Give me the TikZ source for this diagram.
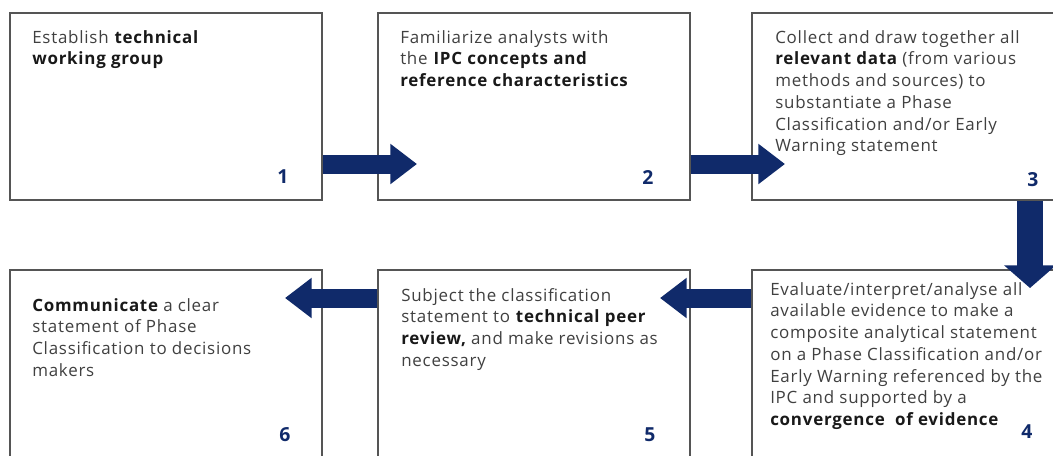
\documentclass[tikz,border=0pt]{standalone}
\usepackage{fontspec}
\setmainfont[LetterSpace=4.5]{Open Sans}
\usetikzlibrary{arrows.meta}

\definecolor{ipcnavy}{HTML}{102A6A}
\definecolor{boxgray}{HTML}{555555}
\definecolor{txtgray}{HTML}{404040}
\newcommand{\keyword}[1]{\textbf{\color{black!90}#1}}

\tikzset{
  stepbox/.style={draw=boxgray, line width=1.3pt, fill=white,
    minimum width=234pt, minimum height=140.25pt, inner sep=0pt},
  steptext/.style={anchor=north west, align=left, inner sep=0pt,
    font=\fontsize{12.7}{16.3}\selectfont, text=txtgray},
  stepnum/.style={font=\fontsize{14.5}{16}\selectfont\bfseries, text=ipcnavy},
  flow/.style={line width=14.25pt, draw=ipcnavy,
    -{Triangle[width=29pt,length=20pt]}},
  downflow/.style={line width=19pt, draw=ipcnavy,
    -{Triangle[width=38pt,length=17pt]}},
}

\begin{document}
\begin{tikzpicture}[x=0.75pt, y=-0.75pt]
  \useasboundingbox (0,0) rectangle (1053,455);

  % top row
  \node [stepbox] (b1) at (166, 106.5) {};
  \node [stepbox] (b2) at (534, 106.5) {};
  \node [stepbox] (b3) at (908, 106.5) {};

  % bottom row
  \node [stepbox] (b6) at (166, 363.5) {};
  \node [stepbox] (b5) at (534, 363.5) {};
  \node [stepbox] (b4) at (908, 363.5) {};

  \node [steptext] (t1) at (32, 30) {Establish \keyword{technical}\\
    \keyword{working group}};
  \node [steptext] (t2) at (400, 30) {Familiarize analysts with\\
    the \keyword{IPC concepts and}\\ \keyword{reference characteristics}};
  \node [steptext] (t3) at (775, 30) {Collect and draw together all\\
    \keyword{relevant data} (from various\\ methods and sources) to\\
    substantiate a Phase\\ Classification and/or Early\\ Warning statement};
  \node [steptext] (t4) at (770, 282) {Evaluate/interpret/analyse all\\
    available evidence to make a\\ composite analytical statement\\
    on a Phase Classification and/or\\ Early Warning referenced by the\\
    IPC and supported by a\\ \keyword{convergence\ \ of evidence}};
  \node [steptext] (t5) at (401, 288) {Subject the classification\\
    statement to \keyword{technical peer}\\
    \keyword{review,} and make revisions as\\ necessary};
  \node [steptext] (t6) at (32, 298) {\keyword{Communicate} a clear\\
    statement of Phase\\ Classification to decisions\\ makers};

  \node [stepnum] (n1) at (283, 177) {1};
  \node [stepnum] (n2) at (648, 177) {2};
  \node [stepnum] (n3) at (1033, 180) {3};
  \node [stepnum] (n4) at (1027, 432) {4};
  \node [stepnum] (n5) at (650, 435) {5};
  \node [stepnum] (n6) at (285, 435) {6};

  % arrow tips
  \coordinate (tip12) at (417, 164);
  \coordinate (tip23) at (785, 164);
  \coordinate (tip34) at (1030, 288);
  \coordinate (tip45) at (660, 298);
  \coordinate (tip56) at (285, 298);

  \draw [flow] (b1.east |- tip12) -- (tip12);
  \draw [flow] (b2.east |- tip23) -- (tip23);
  \draw [downflow] (b3.south -| tip34) -- (tip34);
  \draw [flow] (b4.west |- tip45) -- (tip45);
  \draw [flow] (b5.west |- tip56) -- (tip56);
\end{tikzpicture}
\end{document}
